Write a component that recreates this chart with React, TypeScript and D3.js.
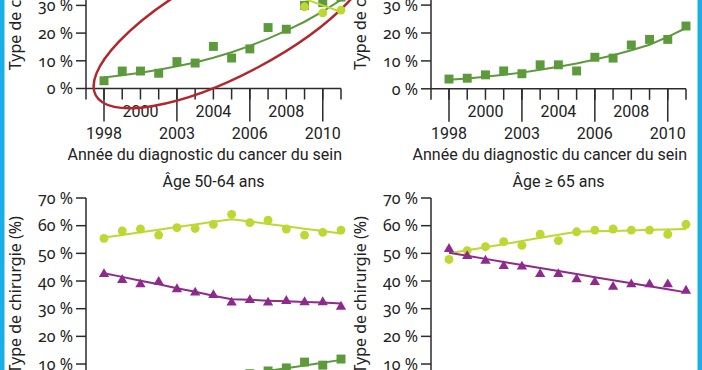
import React from "react";
import * as d3 from "d3";

// years of diagnosis (categories)
const years = [1998, 1999, 2000, 2001, 2002, 2003, 2004, 2005, 2006, 2007, 2008, 2009, 2010, 2011];
// tick labels as printed in the source figure: [year position, label]
const upperTicks: [number, string][] = [[2000, "2000"], [2004, "2004"], [2008, "2008"]];
const lowerTicks: [number, string][] = [[1998, "1998"], [2002, "2003"], [2006, "2006"], [2010, "2010"]];
const pctTicks = [0, 10, 20, 30, 40, 50, 60, 70];

const xTitle = "Année du diagnostic du cancer du sein";
const yTitle = "Type de chirurgie (%)";

// top-left panel
const tlSquares = [2.8, 6.3, 6.3, 5.5, 9.7, 9.2, 15.2, 11.0, 14.3, 22.0, 21.4, 30.0, 31.0, 33.0];
const tlSquaresTrend = [4.0, 4.8, 5.7, 6.8, 8.0, 9.4, 11.1, 13.1, 15.4, 18.0, 20.9, 24.1, 27.8, 32.0];
const tlCircles = [58, 60, 59, 61, 60, 62, 59, 58, 55, 50, 42, 29.5, 27.3, 28.3];
const tlCirclesTrend = [59.5, 59.7, 59.9, 60.1, 60.3, 60.5, 60.7, 60.9, 55.0, 47.4, 39.8, 32.3, 30.0, 27.6];

// top-right panel
const trSquares = [3.5, 3.8, 5.0, 6.4, 5.4, 8.6, 8.6, 6.4, 11.3, 11.0, 15.7, 17.7, 17.7, 22.5];
const trSquaresTrend = [3.2, 3.7, 4.3, 5.0, 5.8, 6.8, 7.9, 9.1, 10.5, 12.0, 13.8, 15.8, 18.6, 21.8];

// bottom-left panel : 50-64
const blCircles = [55.4, 58.1, 58.8, 56.6, 59.3, 59.0, 60.5, 64.1, 61.1, 62.0, 58.8, 56.6, 57.6, 58.4];
const blCirclesTrend = [55.7, 56.6, 57.6, 58.5, 59.5, 60.4, 61.4, 62.3, 61.5, 60.6, 59.8, 58.9, 58.1, 57.2];
const blTriangles = [42.5, 40.4, 38.8, 39.7, 37.0, 35.8, 34.9, 32.2, 33.1, 32.2, 32.8, 32.3, 32.3, 30.7];
const blTrianglesTrend = [42.8, 41.5, 40.1, 38.8, 37.4, 36.1, 34.7, 33.4, 33.2, 32.9, 32.7, 32.4, 32.2, 31.9];
const blSquares = [2.0, 2.5, 2.4, 3.0, 3.5, 4.0, 4.5, 5.0, 6.5, 7.5, 8.6, 10.7, 9.6, 11.8];
const blSquaresTrend = [1.8, 2.3, 2.8, 3.3, 3.9, 4.4, 5.0, 5.6, 6.6, 7.6, 8.5, 9.5, 10.5, 11.5];

// bottom-right panel : >= 65
const brCircles = [47.8, 51.0, 52.4, 54.2, 52.9, 56.9, 54.6, 57.8, 58.4, 58.8, 58.4, 58.4, 56.9, 60.5];
const brCirclesTrend = [50.0, 51.1, 52.2, 53.3, 54.5, 55.6, 56.7, 57.8, 58.0, 58.1, 58.3, 58.5, 58.6, 58.8];
const brTriangles = [51.6, 49.0, 47.3, 45.4, 45.2, 42.5, 42.5, 40.6, 39.6, 37.9, 38.8, 38.8, 38.8, 36.5];
const brTrianglesTrend = [50.2, 49.1, 48.0, 46.9, 45.8, 44.7, 43.6, 42.5, 41.4, 40.3, 39.2, 38.1, 37.0, 35.9];

const GREEN = "#5c9a3c";
const LIME = "#bfd733";
const PURPLE = "#8d2a8c";
const INK = "#2b2b2b";

type Series = { values: number[]; trend: number[]; color: string; shape: d3.SymbolType; size: number };

const sq = (values: number[], trend: number[]): Series => ({ values, trend, color: GREEN, shape: d3.symbolSquare, size: 80 });
const ci = (values: number[], trend: number[]): Series => ({ values, trend, color: LIME, shape: d3.symbolCircle, size: 62 });
const tr = (values: number[], trend: number[]): Series => ({ values, trend, color: PURPLE, shape: d3.symbolTriangle, size: 46 });

const latin = "Roboto, 'DejaVu Sans', sans-serif";
const humanist = "'Noto Sans', 'Open Sans', sans-serif";

function Panel({ axisX, zeroY, pxPerPct, title, series, ellipse }: {
  axisX: number; zeroY: number; pxPerPct: number; title?: string; series: Series[]; ellipse?: boolean;
}) {
  const x = d3.scaleLinear().domain([1998, 2011]).range([axisX + 18, axisX + 18 + 237]);
  const y = d3.scaleLinear().domain([0, 70]).range([zeroY, zeroY - 70 * pxPerPct]);
  const line = d3.line<number>().x((_, i) => x(years[i])).y(d => y(d));
  const xEnd = x(2011);
  return (
    <g>
      {/* axes */}
      <line x1={axisX} x2={xEnd} y1={zeroY} y2={zeroY} stroke={INK} strokeWidth={1.5} />
      <line x1={axisX} x2={axisX} y1={zeroY + 11} y2={y(70)} stroke={INK} strokeWidth={1.5} />
      {years.map(yr => (
        <line key={yr} x1={x(yr)} x2={x(yr)} y1={zeroY} y2={zeroY + 11} stroke={INK} strokeWidth={1.5} />
      ))}
      {lowerTicks.map(([yr]) => (
        <line key={"l" + yr} x1={x(yr)} x2={x(yr)} y1={zeroY} y2={zeroY + 33} stroke={INK} strokeWidth={1.5} />
      ))}
      {upperTicks.map(([yr, lab]) => (
        <text key={"u" + yr} x={x(yr)} y={zeroY + 28.5} textAnchor="middle" fontFamily={latin} fontSize={16} fill="#222">{lab}</text>
      ))}
      {lowerTicks.map(([yr, lab]) => (
        <text key={"t" + yr} x={x(yr)} y={zeroY + 50} textAnchor="middle" fontFamily={latin} fontSize={16} fill="#222">{lab}</text>
      ))}
      <text x={xEnd + 1} y={zeroY + 71.5} textAnchor="end" fontFamily={latin} fontSize={16} fill="#222">{xTitle}</text>
      {pctTicks.map(p => (
        <g key={p}>
          <line x1={axisX - 10} x2={axisX} y1={y(p)} y2={y(p)} stroke={INK} strokeWidth={1.5} />
          <text x={axisX - 13} y={y(p)} dy="0.36em" textAnchor="end" fontFamily={humanist} fontSize={16}
            style={{ fontVariantNumeric: "oldstyle-nums" }} fill="#222">{p} %</text>
        </g>
      ))}
      <text transform={`translate(${axisX - 71},${(y(0) + y(70)) / 2}) rotate(-90)`} textAnchor="middle"
        dy="0.35em" fontFamily={humanist} fontSize={16} fill="#222">{yTitle}</text>
      {title && (
        <text x={(axisX + xEnd) / 2} y={y(70) - 11} textAnchor="middle" fontFamily={latin} fontSize={16} fill="#222">{title}</text>
      )}
      {ellipse && (
        <ellipse cx={x(2005.1)} cy={y(24)} rx={156} ry={51.5}
          transform={`rotate(-28 ${x(2005.1)} ${y(24)})`} fill="none" stroke="#b3262b" strokeWidth={2.5} />
      )}
      {series.map((s, k) => (
        <g key={k}>
          <path d={line(s.trend) ?? ""} fill="none" stroke={s.color} strokeWidth={2} />
          {s.values.map((v, i) => (
            <path key={i} d={d3.symbol(s.shape, s.size)() ?? ""} transform={`translate(${x(years[i])},${y(v)})`} fill={s.color} />
          ))}
        </g>
      ))}
    </g>
  );
}

export default function App() {
  return (
    <svg width={702} height={370} style={{ position: "absolute", left: 0, top: 0, background: "#fff" }}>
      <rect width={702} height={370} fill="#fff" />
      <Panel axisX={86} zeroY={88.5} pxPerPct={2.77} ellipse
        series={[sq(tlSquares, tlSquaresTrend), ci(tlCircles, tlCirclesTrend)]} />
      <Panel axisX={431} zeroY={88.8} pxPerPct={2.79}
        series={[sq(trSquares, trSquaresTrend)]} />
      <Panel axisX={86} zeroY={391.7} pxPerPct={2.767} title="Âge 50-64 ans"
        series={[ci(blCircles, blCirclesTrend), tr(blTriangles, blTrianglesTrend), sq(blSquares, blSquaresTrend)]} />
      <Panel axisX={431} zeroY={391.7} pxPerPct={2.767} title="Âge ≥ 65 ans"
        series={[ci(brCircles, brCirclesTrend), tr(brTriangles, brTrianglesTrend)]} />
      <rect x={0} y={0} width={4.5} height={370} fill="#1aaee6" />
      <rect x={697.5} y={0} width={4.5} height={370} fill="#1aaee6" />
    </svg>
  );
}
